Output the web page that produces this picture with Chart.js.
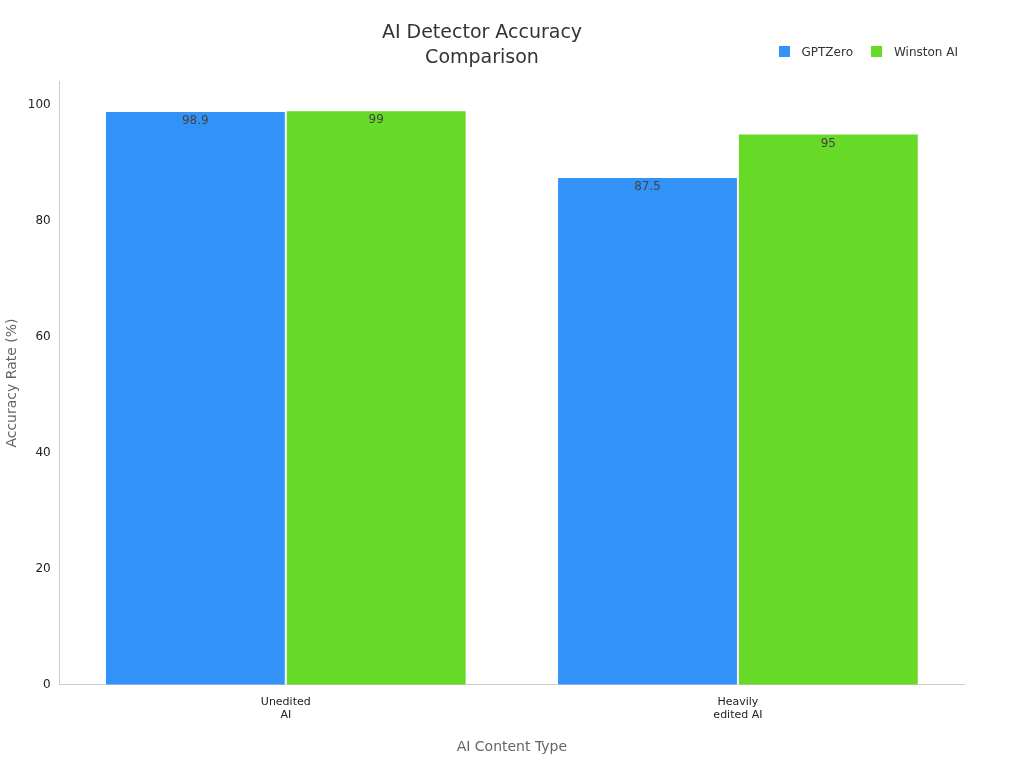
<!DOCTYPE html>
<html lang="en">
<head>
<meta charset="UTF-8">
<title>AI Detector Accuracy Comparison</title>
<script src="https://cdn.jsdelivr.net/npm/chart.js"></script>
<style>
  body { margin: 0; background: #fff; font-family: "DejaVu Sans", sans-serif; }
  #wrap { position: relative; width: 1024px; height: 768px; }
  #legend { position: absolute; top: 45px; right: 66px; font-size: 12px; color: #333; display: flex; gap: 18px; }
  #legend span.box { display: inline-block; width: 11px; height: 11px; margin-right: 12px; vertical-align: -1px; }
</style>
</head>
<body>
<div id="wrap">
  <canvas id="chart" width="1024" height="768"></canvas>
  <div id="legend">
    <div><span class="box" style="background:#3292f8"></span>GPTZero</div>
    <div><span class="box" style="background:#66da26"></span>Winston AI</div>
  </div>
</div>
<script>
const categories = [["Unedited", "AI"], ["Heavily", "edited AI"]];
const gptzero = [98.9, 87.5];
const winston = [99, 95];

// value labels just inside the top of each bar
const barLabels = {
  id: 'barLabels',
  afterDatasetsDraw(chart) {
    const ctx = chart.ctx;
    ctx.save();
    ctx.font = '12px "DejaVu Sans"';
    ctx.fillStyle = '#444';
    ctx.textAlign = 'center';
    ctx.textBaseline = 'top';
    chart.data.datasets.forEach((ds, i) => {
      chart.getDatasetMeta(i).data.forEach((bar, j) => {
        ctx.fillText(String(ds.data[j]), bar.x, bar.y + 4);
      });
    });
    ctx.restore();
  }
};

new Chart(document.getElementById('chart'), {
  type: 'bar',
  data: {
    labels: categories,
    datasets: [
      { label: 'GPTZero', data: gptzero, backgroundColor: '#3292f8', borderColor: '#ffffff', borderWidth: 1 },
      { label: 'Winston AI', data: winston, backgroundColor: '#66da26', borderColor: '#ffffff', borderWidth: 1 }
    ]
  },
  options: {
    responsive: false,
    animation: false,
    layout: { padding: { left: 0, right: 60, top: 10, bottom: 8 } },
    datasets: { bar: { barPercentage: 1, categoryPercentage: 0.8 } },
    plugins: {
      legend: { display: false },
      title: {
        display: true,
        text: ['AI Detector Accuracy', 'Comparison'],
        color: '#333',
        font: { family: 'DejaVu Sans', size: 19, weight: 'normal', lineHeight: 1.35 },
        padding: { top: 10, bottom: 10 }
      },
      tooltip: { enabled: false }
    },
    scales: {
      x: {
        grid: { display: false, drawTicks: true },
        border: { color: '#ccc' },
        ticks: { color: '#222', font: { family: 'DejaVu Sans', size: 11 } },
        title: { display: true, text: 'AI Content Type', color: '#666', font: { family: 'DejaVu Sans', size: 14 }, padding: { top: 14 } }
      },
      y: {
        min: 0, max: 104,
        afterBuildTicks(axis) { axis.ticks = [0, 20, 40, 60, 80, 100].map(v => ({ value: v })); },
        grid: { display: false, drawTicks: true, tickLength: 6 },
        border: { color: '#ccc' },
        ticks: { color: '#222', font: { family: 'DejaVu Sans', size: 12 } },
        title: { display: true, text: 'Accuracy Rate (%)', color: '#666', font: { family: 'DejaVu Sans', size: 14 } }
      }
    }
  },
  plugins: [barLabels]
});
</script>
</body>
</html>
